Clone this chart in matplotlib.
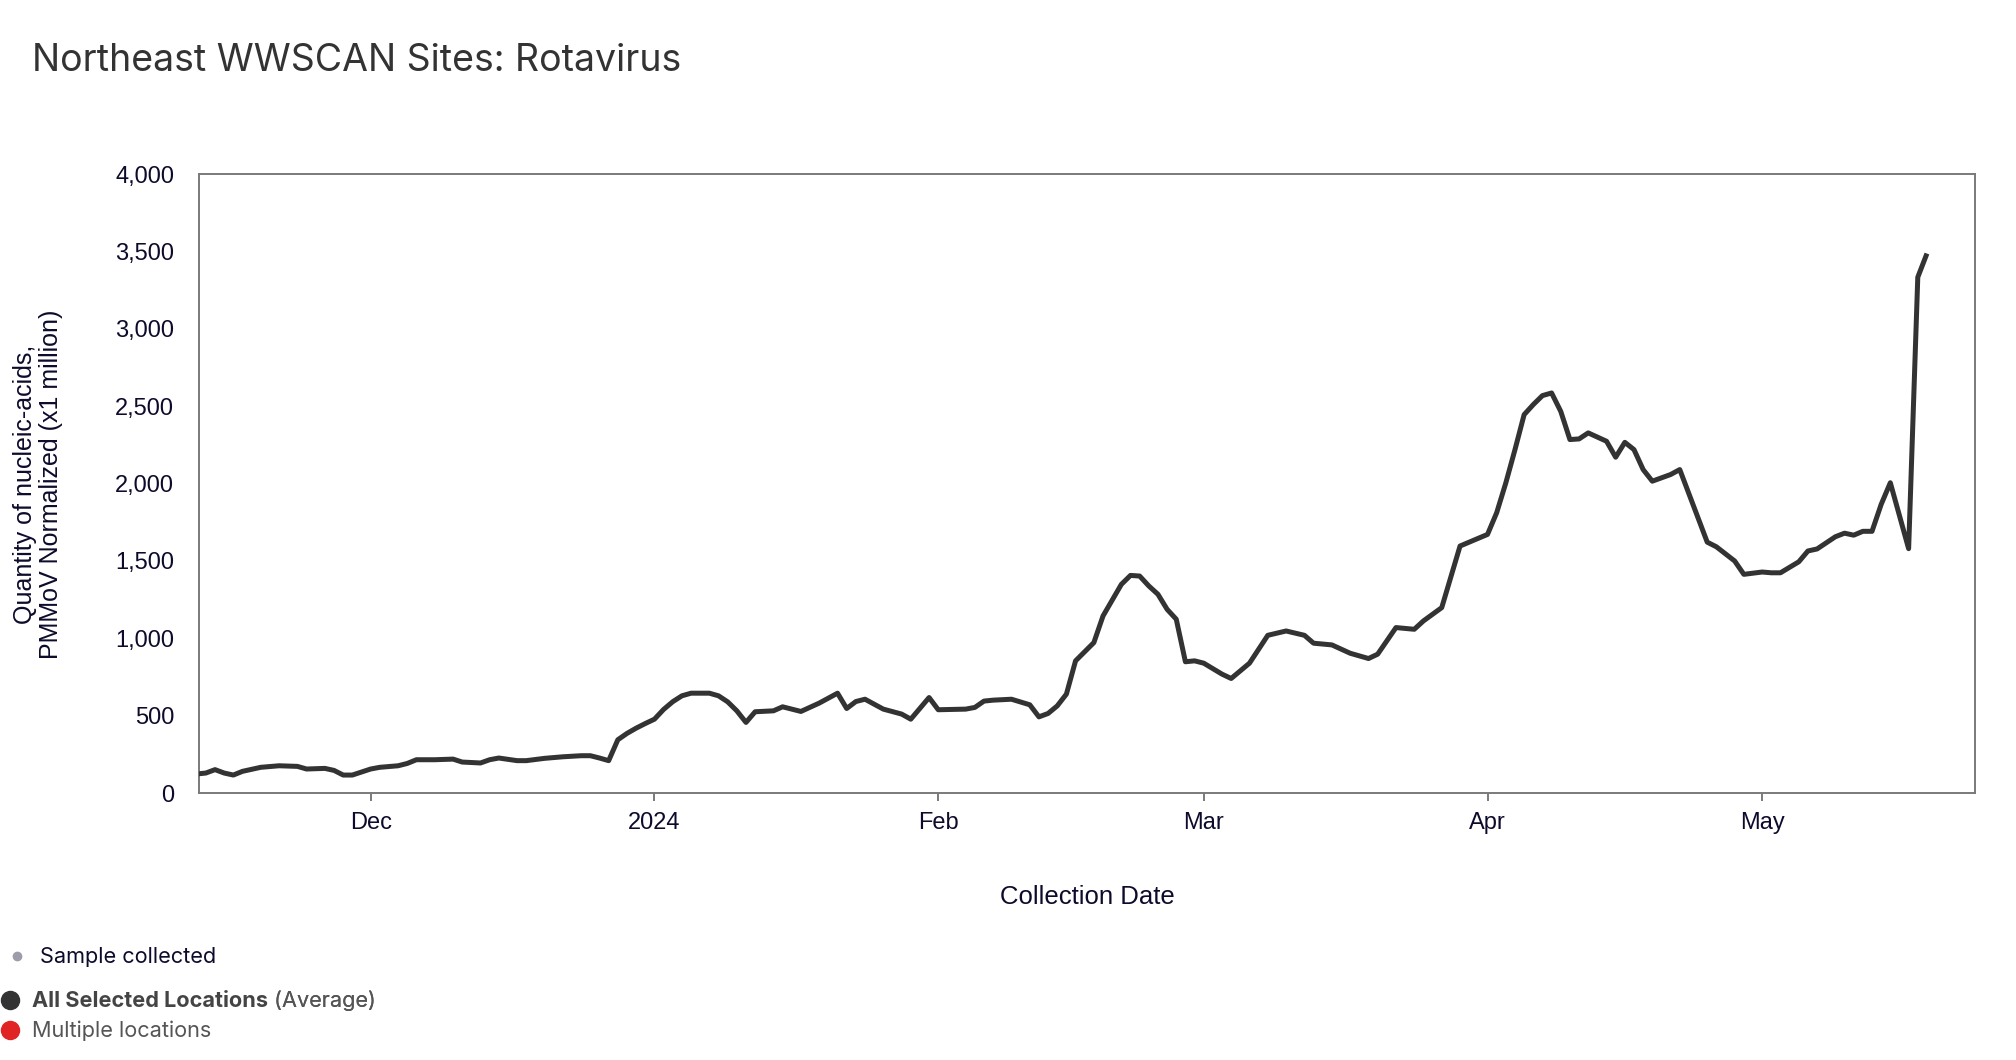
"""Northeast WWSCAN Sites: Rotavirus - line chart recreation."""

from datetime import datetime

import matplotlib
matplotlib.use("Agg")
import matplotlib.pyplot as plt
from matplotlib.lines import Line2D
from matplotlib.ticker import FuncFormatter


# ---------------------------------------------------------------------------
# data
# ---------------------------------------------------------------------------
dates = [
    "2023-11-12", "2023-11-13", "2023-11-14", "2023-11-15", "2023-11-16",
    "2023-11-17", "2023-11-19", "2023-11-21", "2023-11-23", "2023-11-24",
    "2023-11-26", "2023-11-27", "2023-11-28", "2023-11-29", "2023-12-01",
    "2023-12-02", "2023-12-04", "2023-12-05", "2023-12-06", "2023-12-08",
    "2023-12-10", "2023-12-11", "2023-12-13", "2023-12-14", "2023-12-15",
    "2023-12-17", "2023-12-18", "2023-12-20", "2023-12-22", "2023-12-24",
    "2023-12-25", "2023-12-26", "2023-12-27", "2023-12-28", "2023-12-29",
    "2023-12-30", "2023-12-31", "2024-01-01", "2024-01-02", "2024-01-03",
    "2024-01-04", "2024-01-05", "2024-01-07", "2024-01-08", "2024-01-09",
    "2024-01-10", "2024-01-11", "2024-01-12", "2024-01-14", "2024-01-15",
    "2024-01-17", "2024-01-19", "2024-01-21", "2024-01-22", "2024-01-23",
    "2024-01-24", "2024-01-26", "2024-01-28", "2024-01-29", "2024-01-31",
    "2024-02-01", "2024-02-04", "2024-02-05", "2024-02-06", "2024-02-07",
    "2024-02-09", "2024-02-11", "2024-02-12", "2024-02-13", "2024-02-14",
    "2024-02-15", "2024-02-16", "2024-02-18", "2024-02-19", "2024-02-21",
    "2024-02-22", "2024-02-23", "2024-02-24", "2024-02-25", "2024-02-26",
    "2024-02-27", "2024-02-28", "2024-02-29", "2024-03-01", "2024-03-03",
    "2024-03-04", "2024-03-06", "2024-03-08", "2024-03-10", "2024-03-12",
    "2024-03-13", "2024-03-15", "2024-03-17", "2024-03-19", "2024-03-20",
    "2024-03-22", "2024-03-24", "2024-03-25", "2024-03-27", "2024-03-29",
    "2024-04-01", "2024-04-02", "2024-04-03", "2024-04-04", "2024-04-05",
    "2024-04-06", "2024-04-07", "2024-04-08", "2024-04-09", "2024-04-10",
    "2024-04-11", "2024-04-12", "2024-04-14", "2024-04-15", "2024-04-16",
    "2024-04-17", "2024-04-18", "2024-04-19", "2024-04-21", "2024-04-22",
    "2024-04-25", "2024-04-26", "2024-04-28", "2024-04-29", "2024-05-01",
    "2024-05-02", "2024-05-03", "2024-05-05", "2024-05-06", "2024-05-07",
    "2024-05-09", "2024-05-10", "2024-05-11", "2024-05-12", "2024-05-13",
    "2024-05-14", "2024-05-15", "2024-05-17", "2024-05-18", "2024-05-19",
]

values = [
    123, 129, 151, 129, 116,
    140, 166, 176, 172, 155,
    159, 146, 116, 116, 155,
    166, 176, 191, 215, 215,
    219, 200, 194, 215, 226,
    209, 209, 224, 234, 241,
    241, 226, 209, 344, 385,
    419, 449, 477, 540, 590,
    628, 645, 645, 628, 589,
    531, 456, 525, 531, 557,
    527, 581, 645, 546, 591,
    606, 542, 510, 477, 617,
    538, 542, 553, 594, 600,
    606, 570, 492, 514, 563,
    639, 854, 972, 1144, 1348,
    1406, 1402, 1338, 1284, 1187,
    1123, 848, 854, 839, 768,
    740, 839, 1019, 1047, 1019,
    968, 957, 903, 869, 897,
    1069, 1058, 1112, 1198, 1596,
    1671, 1811, 2004, 2219, 2445,
    2510, 2568, 2585, 2466, 2284,
    2288, 2327, 2273, 2170, 2266,
    2219, 2090, 2015, 2058, 2090,
    1621, 1591, 1499, 1413, 1428,
    1423, 1423, 1494, 1564, 1577,
    1656, 1679, 1666, 1691, 1691,
    1865, 2005, 1579, 3333, 3486,
]

y_ticks = [0, 500, 1000, 1500, 2000, 2500, 3000, 3500, 4000]
x_tick_dates = ["2023-12-01", "2024-01-01", "2024-02-01", "2024-03-01",
                "2024-04-01", "2024-05-01"]
x_tick_labels = ["Dec", "2024", "Feb", "Mar", "Apr", "May"]

title = "Northeast WWSCAN Sites: Rotavirus"
y_label = "Quantity of nucleic-acids,\nPMMoV Normalized (x1 million)"
x_label = "Collection Date"

# ---------------------------------------------------------------------------
# styles
# ---------------------------------------------------------------------------
LINE_COLOR = "#333333"
AXIS_COLOR = "#7a7a7a"
TICK_TEXT = "#0d0b2b"
UI_FONT = ["Inter", "DejaVu Sans"]
AXIS_FONT = ["Liberation Sans", "DejaVu Sans"]

W, H = 2016, 1060


def fx(px):
    return px / W


def fy(py):
    return 1 - py / H


fig = plt.figure(figsize=(W / 100, H / 100), dpi=100)
ax = fig.add_axes([fx(199), fy(793), (1975 - 199) / W, (793 - 174) / H])

x = [datetime.strptime(d, "%Y-%m-%d") for d in dates]
ax.plot(x, values, color=LINE_COLOR, linewidth=3.6,
        solid_joinstyle="round", solid_capstyle="butt", zorder=3)

ax.set_xlim(datetime(2023, 11, 12, 6), datetime(2024, 5, 24, 6))
ax.set_ylim(0, 4000)
ax.set_yticks(y_ticks)
ax.yaxis.set_major_formatter(FuncFormatter(lambda v, _: f"{int(v):,}"))
ax.set_xticks([datetime.strptime(d, "%Y-%m-%d") for d in x_tick_dates])
ax.set_xticklabels(x_tick_labels)

for s in ax.spines.values():
    s.set_color(AXIS_COLOR)
    s.set_linewidth(1.4)

ax.tick_params(axis="x", length=6, width=1.4, color=AXIS_COLOR, pad=8,
               labelsize=17, labelcolor=TICK_TEXT)
ax.tick_params(axis="y", length=0, pad=18, labelsize=17,
               labelcolor=TICK_TEXT)
for lab in ax.get_xticklabels() + ax.get_yticklabels():
    lab.set_family(AXIS_FONT)

# axis titles
fig.text(fx(1087), fy(897), x_label, fontsize=18.5, color=TICK_TEXT,
         family=AXIS_FONT, ha="center", va="center")
fig.text(fx(38), fy(484), y_label, fontsize=18, color=TICK_TEXT,
         family=AXIS_FONT, ha="center", va="center", rotation=90,
         linespacing=1.15, multialignment="center")

# title
fig.text(fx(32), fy(61), title, fontsize=27, color="#333333",
         family=UI_FONT, va="center", ha="left")

# ---------------------------------------------------------------------------
# legend (bottom left)
# ---------------------------------------------------------------------------
fig.add_artist(Line2D([fx(17)], [fy(956)], marker="o", markersize=6,
                      color="#9c9cab", transform=fig.transFigure))
fig.text(fx(40), fy(957), "Sample collected", fontsize=15.6,
         color=TICK_TEXT, family=UI_FONT, va="center")

fig.add_artist(Line2D([fx(10)], [fy(1000)], marker="o", markersize=13,
                      color="#333333", transform=fig.transFigure))
t1 = fig.text(fx(32), fy(1001), "All Selected Locations", fontsize=15.6,
              color="#444444", family=UI_FONT, weight="bold", va="center")
fig.add_artist(plt.annotate(" (Average)", xy=(1, 0.5), xycoords=t1,
                            fontsize=15.6, color="#555555", family=UI_FONT,
                            va="center", annotation_clip=False))

fig.add_artist(Line2D([fx(10)], [fy(1030)], marker="o", markersize=13,
                      color="#e02424", transform=fig.transFigure))
fig.text(fx(32), fy(1031), "Multiple locations", fontsize=15.6,
         color="#555555", family=UI_FONT, va="center")

fig.savefig("out.png", dpi=100)
